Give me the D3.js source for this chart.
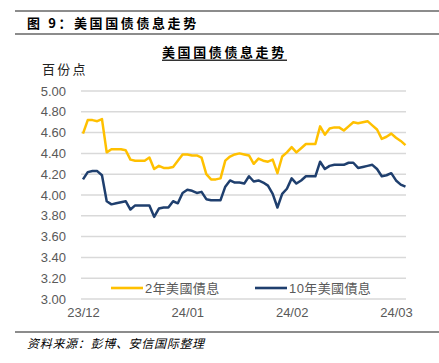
<!DOCTYPE html>
<html><head><meta charset="utf-8">
<script src="https://cdn.jsdelivr.net/npm/d3@7"></script>
<style>
body{margin:0;background:#fff;}
svg{display:block;font-family:"Liberation Sans","Noto Sans CJK SC",sans-serif;}
</style></head>
<body>
<svg id="chart" width="439" height="363"></svg>
<script>
const figTitle = "图 9：美国国债债息走势";
const chartTitle = "美国国债债息走势";
const unitLabel = "百份点";
const sourceText = "资料来源：彭博、安信国际整理";
const seriesNames = ["2年美國債息", "10年美國債息"];
const seriesColors = ["#FFC000", "#1F3F6E"];
const tickLabels = ["23/12", "24/01", "24/02", "24/03"];
const tickIndex = [0, 22, 44, 66];
const yTicks = [3.0, 3.2, 3.4, 3.6, 3.8, 4.0, 4.2, 4.4, 4.6, 4.8, 5.0];
const yield2y = [4.59,4.72,4.72,4.71,4.73,4.41,4.44,4.44,4.44,4.43,4.34,4.33,4.33,4.33,4.36,4.25,4.28,4.26,4.26,4.27,
  4.33,4.39,4.39,4.38,4.38,4.36,4.20,4.15,4.15,4.16,4.33,4.37,4.39,4.40,4.39,4.38,4.30,4.35,4.33,4.32,
  4.34,4.21,4.37,4.41,4.46,4.41,4.45,4.49,4.49,4.49,4.66,4.58,4.64,4.65,4.65,4.62,4.66,4.70,4.69,4.70,
  4.71,4.67,4.63,4.54,4.56,4.59,4.55,4.52,4.48];
const yield10y = [4.15,4.22,4.23,4.23,4.19,3.94,3.91,3.92,3.93,3.94,3.86,3.90,3.90,3.90,3.90,3.79,3.87,3.88,3.88,3.94,
  3.92,4.02,4.05,4.04,4.02,4.03,3.96,3.95,3.95,3.95,4.08,4.14,4.12,4.12,4.11,4.18,4.13,4.14,4.12,4.09,
  4.01,3.88,4.01,4.06,4.16,4.11,4.14,4.18,4.18,4.18,4.32,4.25,4.28,4.29,4.29,4.29,4.31,4.31,4.26,4.27,
  4.28,4.29,4.25,4.18,4.19,4.21,4.14,4.10,4.08];

const svg = d3.select("#chart");
const W = 439;
const lineCol = "#8c8c8c";
const textCol = "#595959";

// header rules
svg.append("rect").attr("x",15).attr("y",10).attr("width",W-15).attr("height",2).attr("fill",lineCol);
svg.append("rect").attr("x",15).attr("y",33).attr("width",W-15).attr("height",2).attr("fill",lineCol);
svg.append("rect").attr("x",15).attr("y",331).attr("width",W-15).attr("height",2).attr("fill",lineCol);

svg.append("text").attr("x",27).attr("y",28).attr("font-size",13).attr("font-weight","bold")
  .attr("letter-spacing",2.6).attr("fill","#000").attr("font-family","'Noto Sans CJK SC',sans-serif").text(figTitle);

svg.append("text").attr("x",162).attr("y",57).attr("font-size",13).attr("font-weight","bold")
  .attr("letter-spacing",2.6).attr("fill","#000").attr("font-family","'Noto Sans CJK SC',sans-serif").text(chartTitle);
svg.append("rect").attr("x",162).attr("y",59.5).attr("width",125).attr("height",1.5).attr("fill","#333");

svg.append("text").attr("x",42).attr("y",74).attr("font-size",13)
  .attr("letter-spacing",2.2).attr("fill","#222").attr("font-family","'Noto Sans CJK SC',sans-serif").text(unitLabel);

svg.append("text").attr("x",27).attr("y",348).attr("font-size",12).attr("font-style","italic")
  .attr("letter-spacing",0.7).attr("fill","#000").attr("font-family","'Noto Sans CJK SC',sans-serif")
  .text(sourceText);

// scales
const x = d3.scaleLinear().domain([0, tickIndex[3]]).range([83, 396]);
const y = d3.scaleLinear().domain([3.0, 5.0]).range([299, 91]);

// grid
svg.append("g").selectAll("line").data(yTicks).join("line")
  .attr("x1",81).attr("x2",406).attr("y1",d=>y(d)).attr("y2",d=>y(d))
  .attr("stroke","#d9d9d9").attr("stroke-width",1.5);

// y axis
const yAxis = d3.axisLeft(y).tickValues(yTicks).tickFormat(d3.format(".2f")).tickSize(0).tickPadding(0);
const gy = svg.append("g").attr("transform","translate(66,0)").call(yAxis);
gy.select(".domain").remove();
gy.selectAll("text").attr("font-size",13).attr("fill",textCol).attr("font-family","'Liberation Sans',sans-serif");

// x axis
const xAxis = d3.axisBottom(x).tickValues(tickIndex).tickFormat((d,i)=>tickLabels[i]).tickSize(0).tickPadding(0);
const gx = svg.append("g").attr("transform","translate(0,308)").call(xAxis);
gx.select(".domain").remove();
gx.selectAll("text").attr("font-size",13).attr("fill",textCol).attr("dy","0.71em").attr("font-family","'Liberation Sans',sans-serif");

// lines
const line = d3.line().x((d,i)=>x(i)).y(d=>y(d));
[yield2y, yield10y].forEach((s,k)=>{
  svg.append("path").datum(s).attr("d",line).attr("fill","none")
    .attr("stroke",seriesColors[k]).attr("stroke-width",2.5).attr("stroke-linejoin","round");
});

// legend
const legX = [111, 255];
seriesNames.forEach((n,k)=>{
  svg.append("line").attr("x1",legX[k]).attr("x2",legX[k]+32).attr("y1",288).attr("y2",288)
    .attr("stroke",seriesColors[k]).attr("stroke-width",2.6);
  svg.append("text").attr("x",legX[k]+34).attr("y",293).attr("font-size",13).attr("fill",textCol)
    .attr("letter-spacing",0.4).attr("font-family","'Liberation Sans','Noto Sans CJK TC',sans-serif").text(n);
});
</script>
</body></html>
